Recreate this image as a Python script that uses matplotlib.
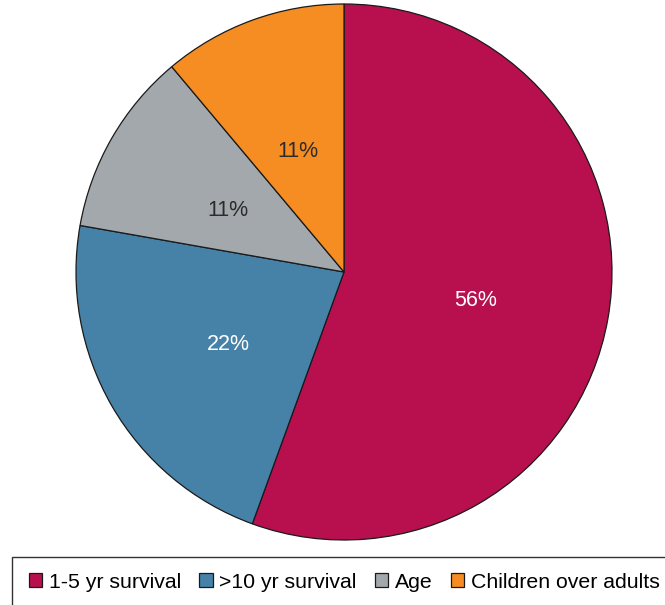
import matplotlib.pyplot as plt
from matplotlib.patches import Rectangle

# donnees
categories = ["1-5 yr survival", ">10 yr survival", "Age", "Children over adults"]
valeurs = [5, 2, 1, 1]
couleurs = ["#B80F4E", "#4682A8", "#A2A8AB", "#F68D22"]
couleurs_texte = ["white", "white", "#2b2b2b", "#2b2b2b"]

plt.rcParams['font.family'] = ['Liberation Sans', 'DejaVu Sans']

fig = plt.figure(figsize=(6.65, 6.05), dpi=100)
ax = fig.add_axes([76 / 665, 65 / 605, 536 / 665, 536 / 605])

parts, textes, autotextes = ax.pie(
    valeurs,
    colors=couleurs,
    startangle=90,
    counterclock=False,
    autopct=lambda p: f"{p:.0f}%",
    pctdistance=0.5,
    wedgeprops=dict(edgecolor="#1a1a1a", linewidth=0.9),
    textprops=dict(fontsize=15.5),
)
for t, c in zip(autotextes, couleurs_texte):
    t.set_color(c)
    x, y = t.get_position()
    t.set_position((x, y - 0.02))
ax.set_aspect("equal")
ax.set_xlim(-1, 1)
ax.set_ylim(-1, 1)

# cadre de la legende
cadre = Rectangle((12 / 665, -0.01), 0.99, (605 - 557) / 605 + 0.01,
                  transform=fig.transFigure, facecolor="white",
                  edgecolor="#333333", linewidth=1.0, clip_on=False)
fig.patches.append(cadre)

fig.legend(parts, categories, loc="center left", bbox_to_anchor=(20 / 665, 23 / 605),
           ncol=4, frameon=False, fontsize=15.3, handlelength=0.65, handleheight=0.65,
           handletextpad=0.3, columnspacing=0.85, borderaxespad=0)

plt.savefig("out.png", dpi=100)
